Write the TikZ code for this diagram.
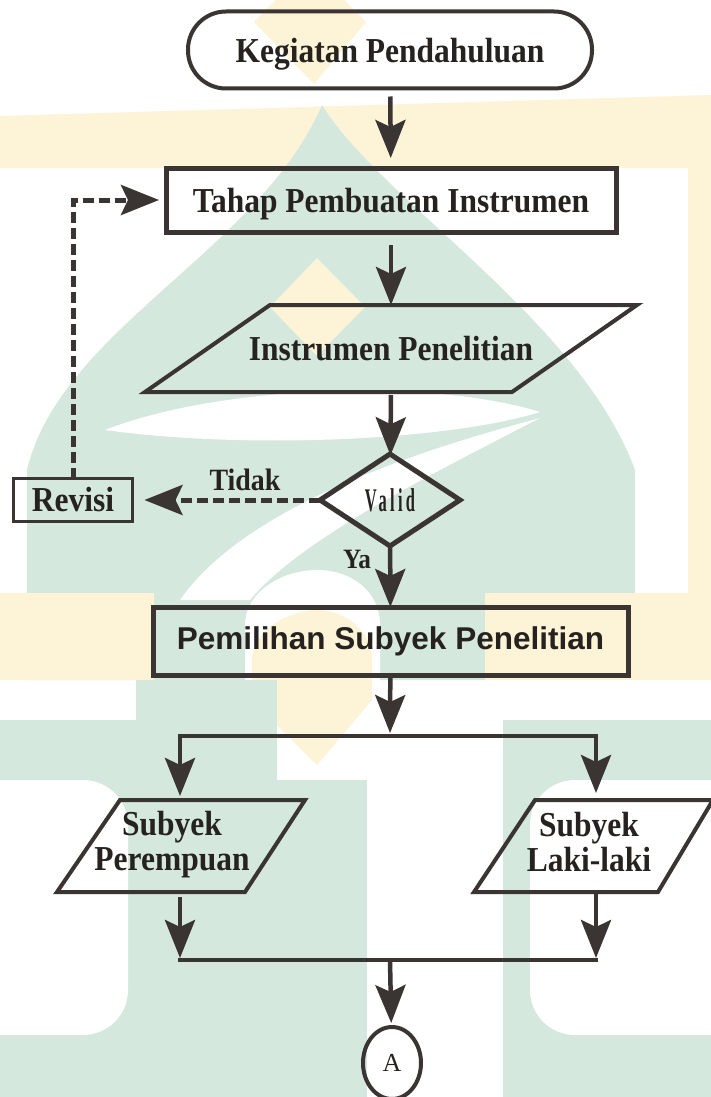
\documentclass[tikz,border=0pt]{standalone}
\usepackage{fontspec}
\setmainfont[FakeStretch=0.9]{Liberation Serif}
\newfontfamily\pemfont{Liberation Sans}
\newfontfamily\validfont[FakeStretch=0.5,LetterSpace=10]{Liberation Serif}
\newfontfamily\afont{Liberation Serif}
\usetikzlibrary{arrows.meta,shapes.geometric,calc}
\definecolor{wmgreen}{RGB}{213,232,221}
\definecolor{wmyellow}{RGB}{253,243,214}
\definecolor{linec}{RGB}{58,53,50}
\definecolor{textc}{RGB}{38,34,31}
\begin{document}
\begin{tikzpicture}[x=1pt,y=-1pt,
  base/.style={draw=linec, text=textc, font=\fontsize{35}{35}\selectfont\bfseries, inner sep=0pt, outer sep=0pt},
  termbox/.style={base, rectangle, rounded corners=38pt, line width=4pt, minimum width=404pt, minimum height=77pt, text depth=0pt},
  procbox/.style={base, rectangle, line width=5pt},
  iotext/.style={base, draw=none, rectangle, align=center, font=\fontsize{35}{35}\selectfont\bfseries},
  ioshape/.style={draw=linec, line width=4pt, line join=miter},
  decbox/.style={base, diamond, line width=5pt, minimum width=140pt, minimum height=92pt},
  arr/.style={draw=linec, line width=4.5pt, -{Stealth[length=38pt,width=30pt,inset=7pt]}},
  link/.style={draw=linec, line width=4.5pt},
  dasharr/.style={arr, dash pattern=on 11pt off 5pt, line width=5pt},
  lbl/.style={text=textc, inner sep=0pt},
  wmg/.style={fill=wmgreen, draw=none},
  wmy/.style={fill=wmyellow, draw=none},
  wmw/.style={fill=white, draw=none},
]
\useasboundingbox (0,0) rectangle (711,1097);
\fill[white] (0,0) rectangle (711,1097);

% ---------- watermark (background logo) ----------
\fill[wmy] (254,22) -- (310,-35) -- (366,22) -- (314,84) -- cycle;
\fill[wmy] (0,116) -- (711,95) -- (711,168) -- (0,168) -- cycle;
\fill[wmy] (688,168) rectangle (711,593);
\fill[wmg] (27,680) -- (27,470) .. controls (60,330) and (260,250) .. (322,105)
   .. controls (380,200) and (580,320) .. (635,470) -- (635,593) -- (485,593) -- (485,680) -- cycle;
\fill[wmy] (0,593) rectangle (154,680);
\fill[wmy] (485,593) rectangle (711,680);
\fill[wmy] (317,258) -- (365,307) -- (317,356) -- (270,307) -- cycle;
\fill[wmw] (105,430) .. controls (220,385) and (430,378) .. (540,412)
   .. controls (450,440) and (250,450) .. cycle;
\fill[wmw] (540,418) .. controls (440,445) and (250,500) .. (180,600)
   -- (250,600) .. controls (300,540) and (420,480) .. (540,418) -- cycle;
\fill[wmw] (245,700) -- (245,625) .. controls (245,592) and (282,570) .. (317,570)
   .. controls (352,570) and (380,592) .. (380,625) -- (380,700) -- cycle;
\fill[wmy] (252,700) -- (252,660) .. controls (252,630) and (290,610) .. (317,610)
   .. controls (344,610) and (372,630) .. (372,660) -- (372,700) -- (317,765) -- cycle;
\fill[wmg] (136,680) rectangle (277,720);
\fill[wmg] (0,720) rectangle (277,1097);
\fill[wmw, rounded corners=45pt] (-60,780) rectangle (128,1035);
\fill[wmg] (277,780) rectangle (367,1097);
\fill[wmg] (503,720) rectangle (711,1097);
\fill[wmw, rounded corners=45pt] (530,780) rectangle (760,1035);

% ---------- nodes ----------
\node[termbox] (start) at (390,50) {Kegiatan Pendahuluan};
\node[procbox, minimum width=450pt, minimum height=64pt, text depth=0pt] (tahap) at (391,200) {Tahap Pembuatan Instrumen};
\node[iotext, minimum width=367pt, minimum height=87pt] (instr) at (391,348.5) {Instrumen Penelitian};
\node[decbox] (valid) at (390,500) {\validfont\fontsize{33}{33}\selectfont Valid};
\node[procbox, line width=3pt, minimum width=119pt, minimum height=43pt] (revisi) at (73,500) {Revisi};
\node[procbox, minimum width=475pt, minimum height=68pt, font=\pemfont\bfseries\fontsize{31.5}{31.5}\selectfont] (pilih) at (390.5,641) {Pemilihan Subyek Penelitian};
\node[iotext, minimum width=180pt, minimum height=92pt] (perempuan) at (172,845) {Subyek\\Perempuan};
\node[iotext, minimum width=180pt, minimum height=92pt] (laki) at (589,842) {Subyek\\Laki-laki};
\node[base, ellipse, line width=4pt, minimum width=58pt, minimum height=72pt, font=\afont\fontsize{26}{26}\selectfont] (conA) at (392,1063) {A};

\node[lbl, font=\fontsize{31}{31}\selectfont\bfseries] (tidak) at (245,480) {Tidak};
\node[lbl, font=\fontsize{28}{28}\selectfont\bfseries] (ya) at (357,559) {Ya};

% parallelogram outlines of the input/output nodes
\draw[ioshape] (270,305) -- (637,305) -- (512,392) -- (145,392) -- cycle;
\draw[ioshape] (120,800) -- (305,800) -- (245,892) -- (57,892) -- cycle;
\draw[ioshape] (535,800) -- (713,800) -- (658,892) -- (474,892) -- cycle;

\coordinate (bm) at (390,736);
\coordinate (bl) at (180,736);
\coordinate (br) at (596,736);
\coordinate (jl) at (180,960);
\coordinate (jr) at (596,960);
\coordinate (jm) at (390,960);

% ---------- connectors ----------
\draw[arr, shorten <=8pt, shorten >=10pt] (start) -- (tahap);
\draw[arr, shorten <=13pt] (tahap) -- (tahap.south |- instr.north);
\draw[arr, shorten <=3pt, shorten >=-1pt] (tahap.south |- instr.south) -- (valid);
\draw[arr] (valid) -- (pilih);
\draw[arr, shorten >=3pt] (pilih) -- (bm);
\draw[link, line cap=rect] (bl) -- (br);
\draw[arr, shorten >=3pt] (bl) -- (bl |- perempuan.north);
\draw[arr, shorten >=3pt] (br) -- (br |- laki.north);
\draw[arr, shorten <=6pt, shorten >=2pt] (jl |- perempuan.south) -- (jl);
\draw[arr, shorten <=6pt, shorten >=2pt] (jr |- laki.south) -- (jr);
\draw[link, line cap=rect] (jl) -- (jr);
\draw[arr, shorten >=4pt] (jm) -- (conA);
\draw[dasharr, shorten >=12pt] (valid.west) -- (revisi.east);
\draw[dasharr, shorten >=7pt] (revisi.north) |- (tahap.west);
\end{tikzpicture}
\end{document}
